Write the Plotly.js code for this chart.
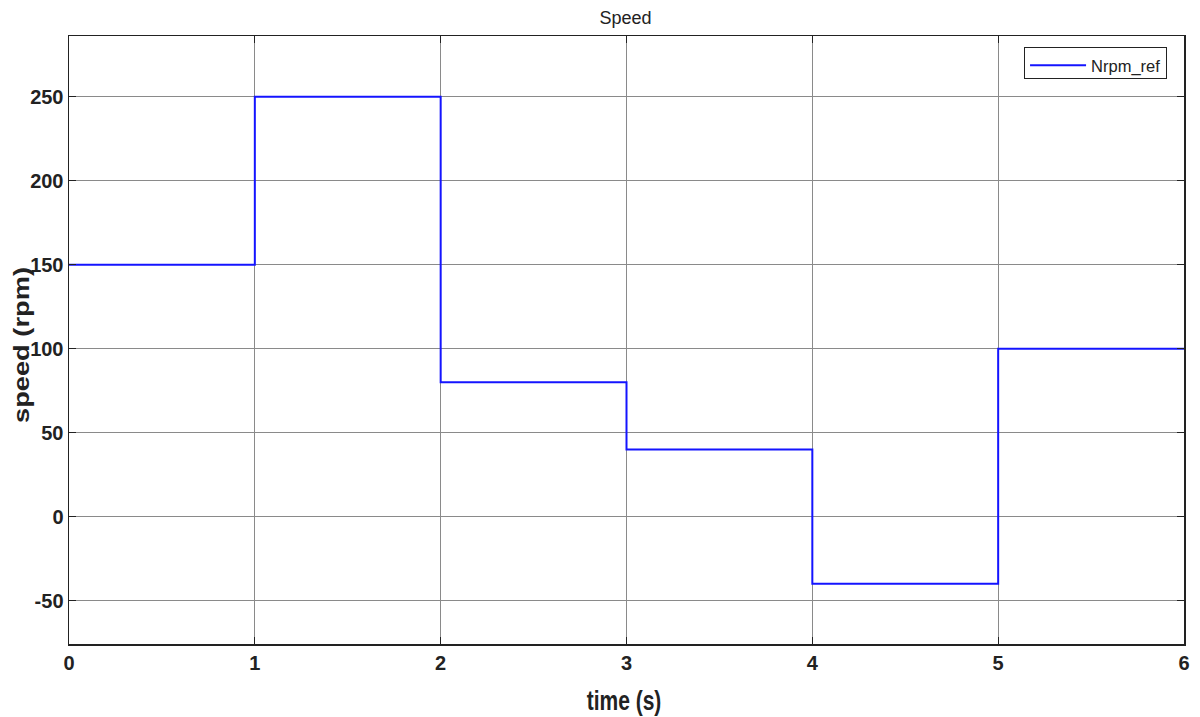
<!DOCTYPE html>
<html>
<head>
<meta charset="utf-8">
<script src="https://cdn.plot.ly/plotly-3.0.1.min.js"></script>
<style>html,body{margin:0;padding:0;background:#fff;}#chart{width:1200px;height:717px;}</style>
</head>
<body>
<div id="chart"></div>
<script>
const timeSteps = [0, 1, 1, 2, 2, 3, 3, 4, 4, 5, 5, 6];
const speedRef = [150, 150, 250, 250, 80, 80, 40, 40, -40, -40, 100, 100];
const xTicks = [0, 1, 2, 3, 4, 5, 6];
const yTicks = [-50, 0, 50, 100, 150, 200, 250];
const yTickText = ['-50', '0', '50', '100', '150', '200', '250'];

const FONT = 'Liberation Sans, Arial, sans-serif';

const trace = {
  x: timeSteps,
  y: speedRef,
  type: 'scatter',
  mode: 'lines',
  name: 'Nrpm_ref',
  line: {color: '#1414ff', width: 2}
};

const axisCommon = {
  showline: true,
  linecolor: '#222',
  linewidth: 1.5,
  mirror: 'ticks',
  ticks: 'inside',
  ticklen: 7,
  tickcolor: '#222',
  showgrid: true,
  gridcolor: '#8a8a8a',
  gridwidth: 1,
  zeroline: false,
  tickfont: {family: FONT, size: 20, color: '#222', weight: 'bold'}
};

const layout = {
  width: 1200,
  height: 717,
  margin: {l: 69, r: 16, t: 36, b: 73},
  paper_bgcolor: '#fff',
  plot_bgcolor: '#fff',
  title: {text: 'Speed', x: 0.5213, xanchor: 'center', y: 0.975, yanchor: 'middle',
          font: {family: FONT, size: 18, color: '#222'}},
  xaxis: Object.assign({}, axisCommon, {
    range: [0, 6], tickvals: xTicks,
    title: {text: 'time (s)', standoff: 12, font: {family: FONT, size: 21, color: '#222', weight: 'bold'}}
  }),
  yaxis: Object.assign({}, axisCommon, {
    range: [-75.8, 286.1], tickvals: yTicks, ticktext: yTickText,
    title: {text: 'speed (rpm)', standoff: 14, font: {family: FONT, size: 22, color: '#222', weight: 'bold'}}
  }),
  showlegend: true,
  legend: {x: 0.9848, xanchor: 'right', y: 0.9819, yanchor: 'top',
           bgcolor: '#fff', bordercolor: '#222', borderwidth: 1,
           itemwidth: 56,
           font: {family: FONT, size: 16.5, color: '#222'}}
};

Plotly.newPlot('chart', [trace], layout, {displayModeBar: false, staticPlot: true}).then(function (gd) {
  // x-axis title: taller glyphs as in the reference
  const xt = gd.querySelector('.g-xtitle text');
  if (xt) {
    const x = 624, y = 710;
    xt.setAttribute('x', x);
    xt.setAttribute('y', y);
    xt.setAttribute('transform', 'translate(' + x + ',' + y + ') scale(1,1.3) translate(' + (-x) + ',' + (-y) + ')');
  }
  // y-axis title: stretched along its length as in the reference
  const yt = gd.querySelector('.g-ytitle text');
  if (yt) {
    const x = 18, y = 345;
    yt.setAttribute('x', x);
    yt.setAttribute('y', y);
    yt.setAttribute('transform', 'rotate(-90,' + x + ',' + y + ') translate(' + x + ',' + y + ') scale(1.24,1) translate(' + (-x) + ',' + (-y) + ')');
  }
  // longer legend line sample
  gd.querySelectorAll('.legend .legendlines path').forEach(function (p) {
    p.setAttribute('d', 'M5,0h56');
  });
  // slightly shorter legend box
  const bg = gd.querySelector('.legend rect.bg');
  if (bg) {
    const h = parseFloat(bg.getAttribute('height'));
    if (h > 31) bg.setAttribute('height', 31);
  }
});
</script>
</body>
</html>
